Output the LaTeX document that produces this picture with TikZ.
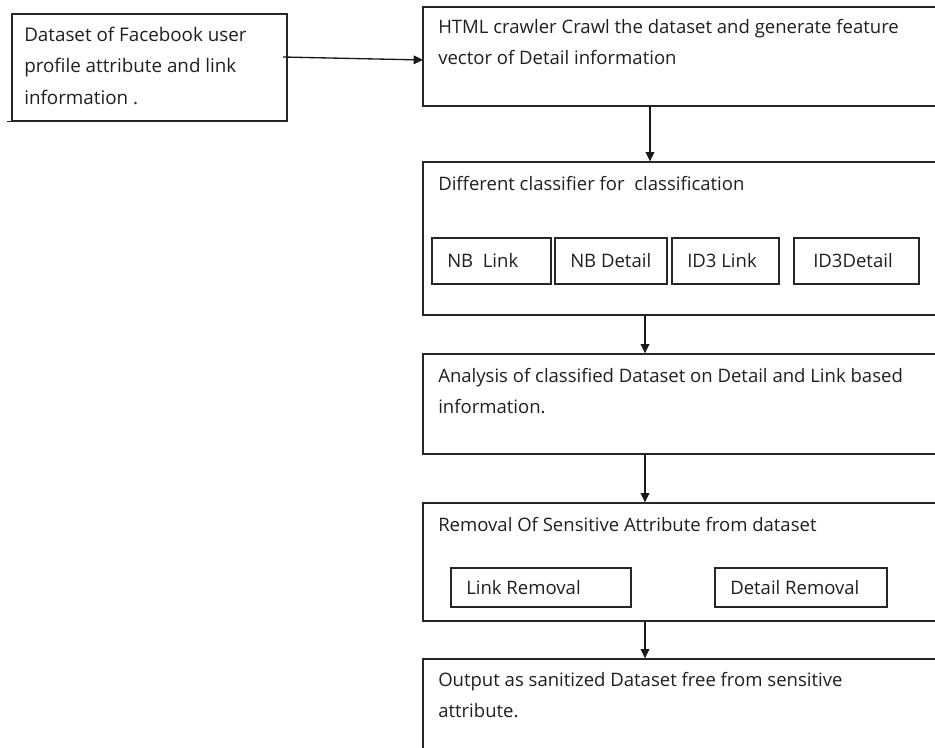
\documentclass[tikz,border=0pt]{standalone}
\usepackage{fontspec}
\setmainfont{Open Sans}
\usetikzlibrary{arrows.meta,fit}
\begin{document}
\begin{tikzpicture}[x=0.75pt,y=-0.75pt,
  box/.style={draw=black!85, line width=1pt, rectangle, inner sep=0pt},
  txt/.style={anchor=base west, align=left, inner sep=0pt, text=black!88,
    font=\fontsize{13.9}{23}\selectfont},
  txtA/.style={txt, font=\fontsize{14.1}{23.3}\selectfont},
  edge/.style={draw=black!85, line width=1pt},
  arr/.style={draw=black!90, line width=1pt, -{Triangle[length=7pt,width=6.5pt]}}]
\useasboundingbox (0,0) rectangle (935,747);
\clip (0,0) rectangle (935,747);
% boxes
\node[box, fit={(12,14) (287,121)}] (b1) {};
\draw[edge] (b1.south west) -- ++(-4,0);
\node[box, fit={(423,7) (960,106)}] (b2) {};
\node[box, fit={(423,162) (960,315)}] (b3) {};
\node[box, fit={(432,238) (551,284)}] (s1) {};
\node[box, fit={(555,238) (667,284)}] (s2) {};
\node[box, fit={(672,238) (779,284)}] (s3) {};
\node[box, fit={(794,238) (919,284)}] (s4) {};
\node[box, fit={(423,354) (960,454)}] (b4) {};
\node[box, fit={(423,503) (960,621)}] (b5) {};
\node[box, fit={(451,568) (631,607)}] (r1) {};
\node[box, fit={(715,568) (887,607)}] (r2) {};
\node[box, fit={(423,659) (960,790)}] (b6) {};
% texts (base anchor = last line's baseline)
\node[txtA] (t1) at (24,104) {Dataset of Facebook user\\profile attribute and link\\information .};
\node[txt] (t2) at (438,64) {HTML crawler Crawl the dataset and generate feature\\vector of Detail information};
\node[txt] (t3) at (438,190) {Different classifier for\ \ classification};
\node[txt] (ts1) at (447,267) {NB\ \ Link};
\node[txt] (ts2) at (570,267) {NB Detail};
\node[txt] (ts3) at (687,267) {ID3 Link};
\node[txt] (ts4) at (813,267) {ID3Detail};
\node[txt] (t4) at (438,413) {Analysis of classified Dataset on Detail and Link based\\information.};
\node[txt] (t5) at (438,531) {Removal Of Sensitive Attribute from dataset};
\node[txt] (tr1) at (466,594) {Link Removal};
\node[txt] (tr2) at (730,594) {Detail Removal};
\node[txt] (t6) at (438,717) {Output as sanitized Dataset free from sensitive\\attribute.};
% connectors
\coordinate (a0) at (283,57);
\coordinate (a1) at (423,60);
\coordinate (cA) at (650,0);
\coordinate (cB) at (645,0);
\draw[arr] (a0) -- (a1);
\draw[arr] (b2.south -| cA) -- (b3.north -| cA);
\draw[arr] (b3.south -| cB) -- (b4.north -| cB);
\draw[arr] (b4.south -| cB) -- (b5.north -| cB);
\draw[arr] (b5.south -| cB) -- (b6.north -| cB);
\end{tikzpicture}
\end{document}
